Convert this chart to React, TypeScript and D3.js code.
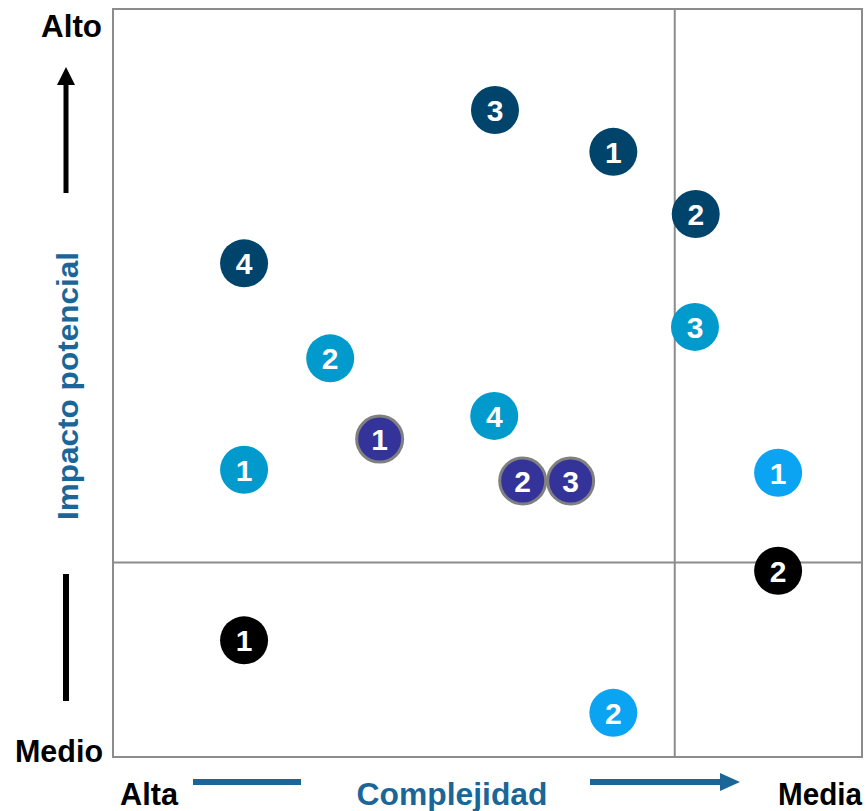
import React from 'react';
import * as d3 from 'd3';

// series: group name, labels, x (complejidad), y (impacto)
const navyLabels = ['3', '1', '2', '4'];
const navyX = [5.1, 6.68, 7.78, 1.75];
const navyY = [8.65, 8.09, 7.26, 6.6];

const tealLabels = ['3', '2', '4', '1'];
const tealX = [7.77, 2.9, 5.09, 1.75];
const tealY = [5.75, 5.33, 4.56, 3.84];

const indigoLabels = ['1', '2', '3'];
const indigoX = [3.56, 5.47, 6.11];
const indigoY = [4.25, 3.69, 3.69];

const skyLabels = ['1', '2'];
const skyX = [8.88, 6.68];
const skyY = [3.8, 0.59];

const blackLabels = ['2', '1'];
const blackX = [8.88, 1.75];
const blackY = [2.49, 1.56];

const xSplit = 7.5;
const ySplit = 2.6;

const W = 867;
const H = 811;
const margin = { top: 9, right: 5, bottom: 54, left: 113 };

const groups = [
    { labels: navyLabels, xs: navyX, ys: navyY, fill: '#00446b', stroke: 'none' },
    { labels: tealLabels, xs: tealX, ys: tealY, fill: '#009bcc', stroke: 'none' },
    { labels: indigoLabels, xs: indigoX, ys: indigoY, fill: '#333399', stroke: '#808080' },
    { labels: skyLabels, xs: skyX, ys: skyY, fill: '#0ba4f2', stroke: 'none' },
    { labels: blackLabels, xs: blackX, ys: blackY, fill: '#000000', stroke: 'none' },
];

export default function App() {
    const x = d3.scaleLinear().domain([0, 10]).range([margin.left, W - margin.right]);
    const y = d3.scaleLinear().domain([0, 10]).range([H - margin.bottom, margin.top]);
    const font = '"Liberation Sans", Arial, sans-serif';
    const blue = '#1a6699';

    return (
        <svg width={W} height={H} style={{ position: 'absolute', left: 0, top: 0 }} fontFamily={font}>
            <rect x={x(0)} y={y(10)} width={x(10) - x(0)} height={y(0) - y(10)} fill="none" stroke="#8c8c8c" strokeWidth={2} />
            <line x1={x(xSplit)} x2={x(xSplit)} y1={y(0)} y2={y(10)} stroke="#8c8c8c" strokeWidth={2} />
            <line x1={x(0)} x2={x(10)} y1={y(ySplit)} y2={y(ySplit)} stroke="#8c8c8c" strokeWidth={2} />

            {/* eje vertical */}
            <text x={102} y={37} textAnchor="end" fontSize={31} fontWeight="bold" textLength={61} lengthAdjust="spacingAndGlyphs">Alto</text>
            <text x={103} y={762} textAnchor="end" fontSize={31} fontWeight="bold" textLength={88} lengthAdjust="spacingAndGlyphs">Medio</text>
            <line x1={66} x2={66} y1={84} y2={193} stroke="#000" strokeWidth={5} />
            <path d="M57,85 L66,67 L75,85 Z" fill="#000" />
            <line x1={66} x2={66} y1={574} y2={701} stroke="#000" strokeWidth={6} />
            <text transform="translate(78,386) rotate(-90)" textAnchor="middle" fontSize={30} fontWeight="bold" fill={blue} textLength={268} lengthAdjust="spacingAndGlyphs">Impacto potencial</text>

            {/* eje horizontal */}
            <text x={120} y={805} fontSize={31} fontWeight="bold" textLength={58} lengthAdjust="spacingAndGlyphs">Alta</text>
            <text x={862} y={805} textAnchor="end" fontSize={31} fontWeight="bold" textLength={84} lengthAdjust="spacingAndGlyphs">Media</text>
            <line x1={193} x2={301} y1={782} y2={782} stroke={blue} strokeWidth={6} />
            <text x={452} y={805} textAnchor="middle" fontSize={31} fontWeight="bold" fill={blue} textLength={191} lengthAdjust="spacingAndGlyphs">Complejidad</text>
            <line x1={590} x2={722} y1={782} y2={782} stroke={blue} strokeWidth={6} />
            <path d="M720,773 L740,782 L720,791 Z" fill={blue} />

            {groups.map((g, gi) =>
                g.labels.map((lab, i) => (
                    <g key={`${gi}-${i}`} transform={`translate(${x(g.xs[i])},${y(g.ys[i])})`}>
                        <circle r={g.stroke === 'none' ? 24 : 23} fill={g.fill} stroke={g.stroke} strokeWidth={g.stroke === 'none' ? 0 : 3} />
                        <text y={11} textAnchor="middle" fontSize={30} fontWeight="bold" fill="#fff">{lab}</text>
                    </g>
                ))
            )}
        </svg>
    );
}
